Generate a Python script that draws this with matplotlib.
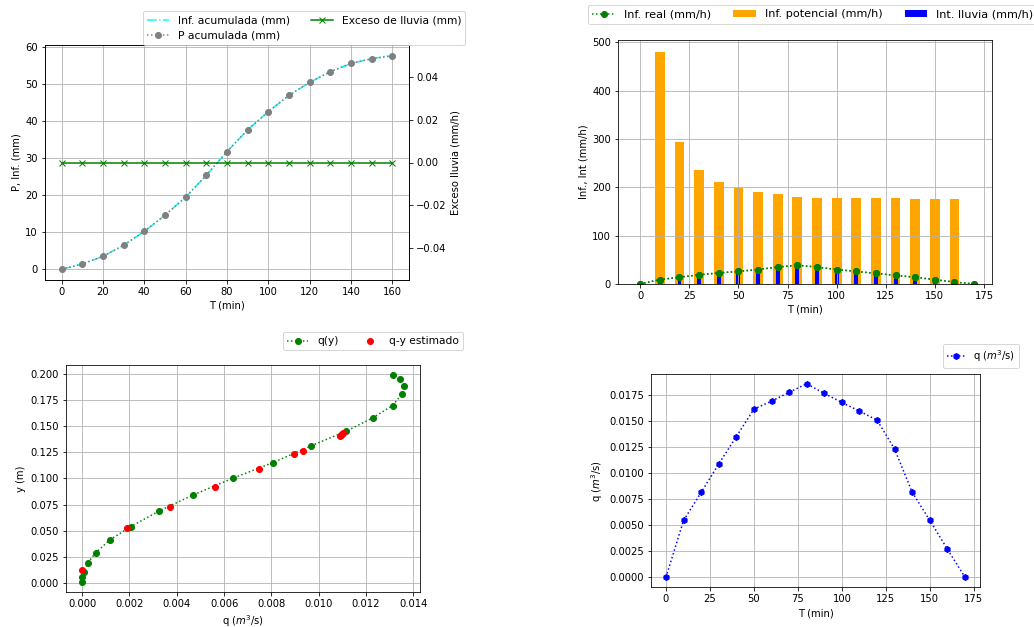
import matplotlib
matplotlib.use("Agg")
import matplotlib.pyplot as plt

# tiempos
t_acum = list(range(0, 170, 10))
t_int = list(range(0, 180, 10))
t_pot = list(range(10, 170, 10))

# lluvia e infiltracion acumuladas (mm)
p_acum = [0, 1.44, 3.5, 6.5, 10.25, 14.6, 19.5, 25.4, 31.8, 37.7, 42.6, 47.0, 50.5, 53.4, 55.6, 56.9, 57.7]
inf_acum = [0, 1.44, 3.5, 6.5, 10.25, 14.6, 19.5, 25.4, 31.8, 37.7, 42.6, 47.0, 50.5, 53.4, 55.6, 56.9, 57.7]
exceso = [0] * 17

# intensidades (mm/h)
inf_real = [0, 9, 14, 19, 23, 26, 30, 35, 39, 35, 30, 26, 22, 18, 14, 9, 4, 0]
int_lluvia = [0, 9, 14, 19, 23, 26, 30, 35, 39, 35, 30, 26, 22, 18, 14, 9, 4, 0]
inf_pot = [481, 293, 237, 212, 199, 191, 186, 181, 179, 179, 177, 177, 177, 175, 175, 175]

# curva q-y
q_curva = [0, 0, 0.0001, 0.00023, 0.00058, 0.00116, 0.00206, 0.00327, 0.00468, 0.00636,
           0.00806, 0.00967, 0.01116, 0.0123, 0.01312, 0.01352, 0.0136, 0.01342, 0.01312]
y_curva = [0.0013, 0.0054, 0.011, 0.019, 0.029, 0.041, 0.054, 0.069, 0.084, 0.100,
           0.115, 0.131, 0.145, 0.158, 0.1695, 0.1806, 0.1886, 0.1946, 0.1984]
q_est = [0, 0.00188, 0.0037, 0.0056, 0.00747, 0.00895, 0.00932, 0.01089, 0.01096, 0.0110, 0.01104]
y_est = [0.0124, 0.053, 0.073, 0.092, 0.109, 0.123, 0.126, 0.1405, 0.1415, 0.1425, 0.1432]

# hidrograma (m3/s)
q_hid = [0, 0.00547, 0.00817, 0.0109, 0.01354, 0.01618, 0.01695, 0.01779, 0.01863,
         0.01769, 0.01682, 0.01599, 0.01512, 0.01232, 0.00817, 0.00547, 0.0027, 0]

W, H = 1034, 627
fig = plt.figure(figsize=(W / 72, H / 72), dpi=72)
plt.rcParams['font.size'] = 10


def px_axes(x0, y0, x1, y1):
    # axes a partir de coordenadas en pixeles (origen arriba a la izquierda)
    return fig.add_axes([x0 / W, 1 - y1 / H, (x1 - x0) / W, (y1 - y0) / H])


def anchor(x, y):
    return (x / W, 1 - y / H)


# --- lluvia acumulada ---
ax1 = px_axes(45, 45, 409, 280)
l1, = ax1.plot(t_acum, inf_acum, color='cyan', ls='-.', label="Inf. acumulada (mm)")
l2, = ax1.plot(t_acum, p_acum, color='grey', ls=':', marker='o', label="P acumulada (mm)")
ax1.set_xlabel("T (min)")
ax1.set_ylabel("P, Inf. (mm)")
ax1.grid(True)
ax1b = ax1.twinx()
l3, = ax1b.plot(t_acum, exceso, 'g-x', label="Exceso de lluvia (mm)")
ax1b.set_ylabel("Exceso lluvia (mm/h)")
fig.legend(handles=[l1, l2, l3], ncol=2, loc='upper left', bbox_to_anchor=anchor(143, 11),
           bbox_transform=fig.transFigure, borderaxespad=0, fontsize=10.8)

# --- intensidades ---
ax2 = px_axes(618, 40, 992, 284)
ax2.plot(t_int, inf_real, 'go:', label="Inf. real (mm/h)")
ax2.bar(t_pot, inf_pot, width=5, color='orange', label="Inf. potencial (mm/h)")
ax2.bar(t_int, int_lluvia, width=2, color='blue', label="Int. lluvia (mm/h)")
ax2.plot(t_int, inf_real, 'go:')
ax2.set_xlim(-11.3, 179.1)
ax2.set_xlabel("T (min)")
ax2.set_ylabel("Inf., Int (mm/h)")
ax2.grid(True)
ax2.legend(ncol=3, loc='upper left', bbox_to_anchor=anchor(588, 5),
           bbox_transform=fig.transFigure, borderaxespad=0, fontsize=11.2)

# --- curva q-y ---
ax3 = px_axes(66, 365, 420, 592)
ax3.plot(q_curva, y_curva, 'go:', label="q(y)")
ax3.plot(q_est, y_est, 'ro', label="q-y estimado")
ax3.set_xlabel("q ($m^3$/s)")
ax3.set_ylabel("y (m)")
ax3.grid(True)
ax3.legend(ncol=2, loc='upper left', bbox_to_anchor=anchor(283, 332),
           bbox_transform=fig.transFigure, borderaxespad=0, fontsize=10.6)

# --- hidrograma ---
ax4 = px_axes(651, 374, 980, 587)
ax4.plot(t_int, q_hid, 'bh:', label="q ($m^3$/s)")
ax4.set_xlabel("T (min)")
ax4.set_ylabel("q ($m^3$/s)")
ax4.grid(True)
ax4.legend(loc='upper left', bbox_to_anchor=anchor(943, 344),
           bbox_transform=fig.transFigure, borderaxespad=0, handlelength=1.8)

fig.savefig("out.png", dpi=72)
